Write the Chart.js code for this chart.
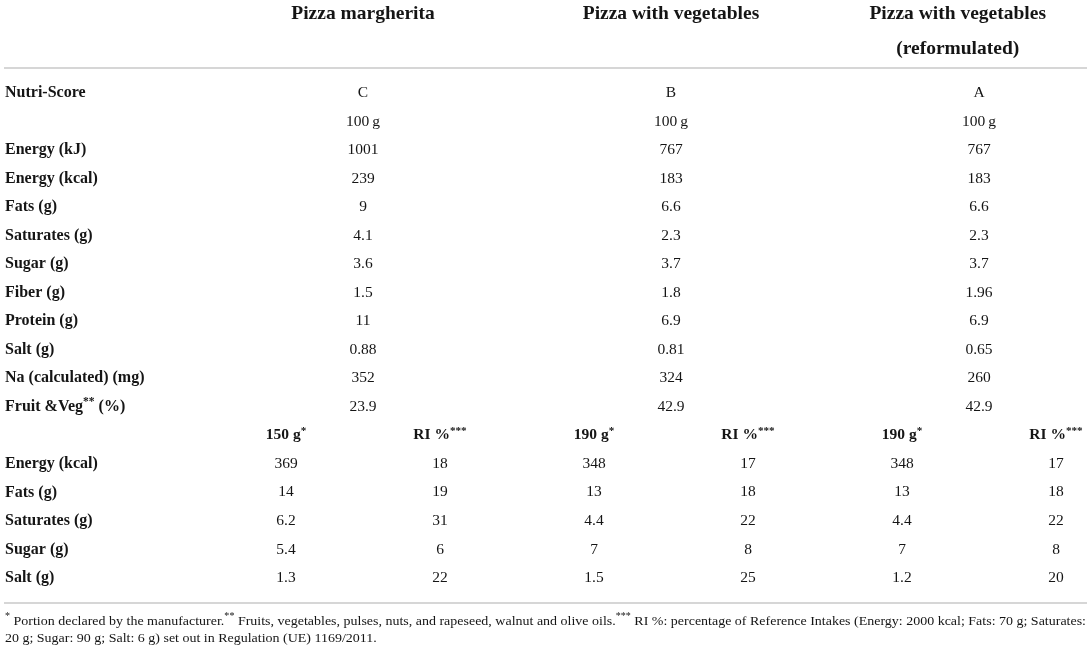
<!DOCTYPE html>
<html>
<head>
<meta charset="utf-8">
<title>Nutri-Score pizza table</title>
<script src="https://cdn.jsdelivr.net/npm/chart.js"></script>
<style>
  html, body { margin: 0; padding: 0; background: #fff; }
  canvas { display: block; }
</style>
</head>
<body>
<canvas id="tbl" width="1091" height="655"></canvas>
<script>
// ===== DATA =====
const productNames = [["Pizza margherita"], ["Pizza with vegetables"], ["Pizza with vegetables", "(reformulated)"]];
const nutriScores = ["C", "B", "A"];
const per100Labels = ["Energy (kJ)", "Energy (kcal)", "Fats (g)", "Saturates (g)", "Sugar (g)", "Fiber (g)",
                      "Protein (g)", "Salt (g)", "Na (calculated) (mg)", "Fruit &Veg** (%)"];
const margherita100 = [1001, 239, 9, 4.1, 3.6, 1.5, 11, 0.88, 352, 23.9];
const vegetables100 = [767, 183, 6.6, 2.3, 3.7, 1.8, 6.9, 0.81, 324, 42.9];
const reformulated100 = [767, 183, 6.6, 2.3, 3.7, 1.96, 6.9, 0.65, 260, 42.9];

const portionLabels = ["Energy (kcal)", "Fats (g)", "Saturates (g)", "Sugar (g)", "Salt (g)"];
const portionSizes = ["150 g*", "190 g*", "190 g*"];
const margheritaPortion = [369, 14, 6.2, 5.4, 1.3];
const margheritaRI = [18, 19, 31, 6, 22];
const vegetablesPortion = [348, 13, 4.4, 7, 1.5];
const vegetablesRI = [17, 18, 22, 8, 25];
const reformulatedPortion = [348, 13, 4.4, 7, 1.2];
const reformulatedRI = [17, 18, 22, 8, 20];

const footnotes = [
  "* Portion declared by the manufacturer.** Fruits, vegetables, pulses, nuts, and rapeseed, walnut and olive oils.*** RI %: percentage of Reference Intakes (Energy: 2000 kcal; Fats: 70 g; Saturates:",
  "20 g; Sugar: 90 g; Salt: 6 g) set out in Regulation (UE) 1169/2011."
];

// rows of the table, top to bottom
const rowLabels = ["Nutri-Score", "", ...per100Labels, "", ...portionLabels];
const portionHeadRow = 2 + per100Labels.length;

// ===== STYLE =====
const FONT = '"Liberation Serif", "Times New Roman", serif';
const INK = "#151515";
const RULE = "#c9c9c9";

function richText(ctx, str, x, y, size, weight, align) {
  // stars are drawn small and raised like the footnote marks
  const parts = String(str).split(/(\*+)/).filter(p => p !== "");
  const fnt = s => `${weight} ${s}px ${FONT}`;
  const widths = parts.map(p => {
    ctx.font = p[0] === "*" ? fnt(size * 0.72) : fnt(size);
    return ctx.measureText(p).width;
  });
  const total = widths.reduce((a, b) => a + b, 0);
  let cx = align === "center" ? x - total / 2 : x;
  ctx.textAlign = "left";
  ctx.textBaseline = "middle";
  parts.forEach((p, i) => {
    const sup = p[0] === "*";
    ctx.font = sup ? fnt(size * 0.72) : fnt(size);
    ctx.fillText(p, cx, sup ? y - size * 0.3 : y);
    cx += widths[i];
  });
  return total;
}

function measureRich(ctx, str, size, weight) {
  const parts = String(str).split(/(\*+)/).filter(p => p !== "");
  return parts.reduce((w, p) => {
    ctx.font = `${weight} ${p[0] === "*" ? size * 0.72 : size}px ${FONT}`;
    return w + ctx.measureText(p).width;
  }, 0);
}

// ===== DATASETS (one per column of cells) =====
const groups = [
  { per100: margherita100, portion: margheritaPortion, ri: margheritaRI },
  { per100: vegetables100, portion: vegetablesPortion, ri: vegetablesRI },
  { per100: reformulated100, portion: reformulatedPortion, ri: reformulatedRI }
];

const datasets = [];
groups.forEach((g, i) => {
  const top = [nutriScores[i], "100\u2009g", ...g.per100];
  datasets.push({
    label: productNames[i].join(" ") + " per 100 g",
    texts: top,
    data: top.map((_, r) => ({ x: 2 * i + 0.5, y: r }))
  });
  const por = [portionSizes[i], ...g.portion];
  datasets.push({
    label: productNames[i].join(" ") + " portion",
    texts: por,
    data: por.map((_, r) => ({ x: 2 * i, y: portionHeadRow + r }))
  });
  const ri = ["RI %***", ...g.ri];
  datasets.push({
    label: productNames[i].join(" ") + " RI",
    texts: ri,
    data: ri.map((_, r) => ({ x: 2 * i + 1, y: portionHeadRow + r }))
  });
});
datasets.forEach(d => { d.pointRadius = 0; d.pointHoverRadius = 0; d.showLine = false; });

// ===== TABLE PLUGIN =====
const tablePlugin = {
  id: "tableText",
  afterDatasetsDraw(chart) {
    const ctx = chart.ctx;
    const area = chart.chartArea;
    const xs = chart.scales.x, ys = chart.scales.y;
    const labelX = 5;
    ctx.save();
    ctx.fillStyle = INK;

    // column headers
    productNames.forEach((lines, i) => {
      const mid = xs.getPixelForValue(2 * i + 0.5);
      const w = Math.max(...lines.map(l => measureRich(ctx, l, 19.5, "bold")));
      const cx = Math.min(mid, area.right - 10 - w / 2);
      lines.forEach((l, k) => richText(ctx, l, cx, area.top - 79 + k * 35, 19.5, "bold", "center"));
    });

    // rules
    ctx.strokeStyle = RULE;
    ctx.lineWidth = 1.5;
    [area.top - 25, area.bottom + 25].forEach(y => {
      ctx.beginPath();
      ctx.moveTo(4, y);
      ctx.lineTo(chart.width - 4, y);
      ctx.stroke();
    });

    // row labels
    rowLabels.forEach((l, r) => {
      if (l) richText(ctx, l, labelX, ys.getPixelForValue(r), 16, "bold", "left");
    });

    // cells
    chart.data.datasets.forEach((ds, i) => {
      const meta = chart.getDatasetMeta(i);
      meta.data.forEach((pt, j) => {
        const bold = ds.data[j].y === portionHeadRow;
        richText(ctx, ds.texts[j], pt.x, pt.y, 15.5, bold ? "bold" : "normal", "center");
      });
    });

    // footnotes, set condensed to fit the width
    const fsize = 13.5;
    const full = measureRich(ctx, footnotes[0], fsize, "normal");
    const sx = (chart.width - 10) / full;
    footnotes.forEach((f, k) => {
      ctx.save();
      ctx.translate(labelX, area.bottom + 43 + k * 17);
      ctx.scale(sx, 1);
      richText(ctx, f, 0, 0, fsize, "normal", "left");
      ctx.restore();
    });
    ctx.restore();
  }
};

new Chart(document.getElementById("tbl"), {
  type: "scatter",
  data: { datasets },
  options: {
    responsive: false,
    animation: false,
    events: [],
    layout: { padding: { left: 286, right: 35, top: 93, bottom: 77 } },
    plugins: { legend: { display: false }, tooltip: { enabled: false } },
    scales: {
      x: { type: "linear", min: 0, max: 5, display: false },
      y: { type: "linear", min: 0, max: rowLabels.length - 1, reverse: true, display: false }
    }
  },
  plugins: [tablePlugin]
});
</script>
</body>
</html>
